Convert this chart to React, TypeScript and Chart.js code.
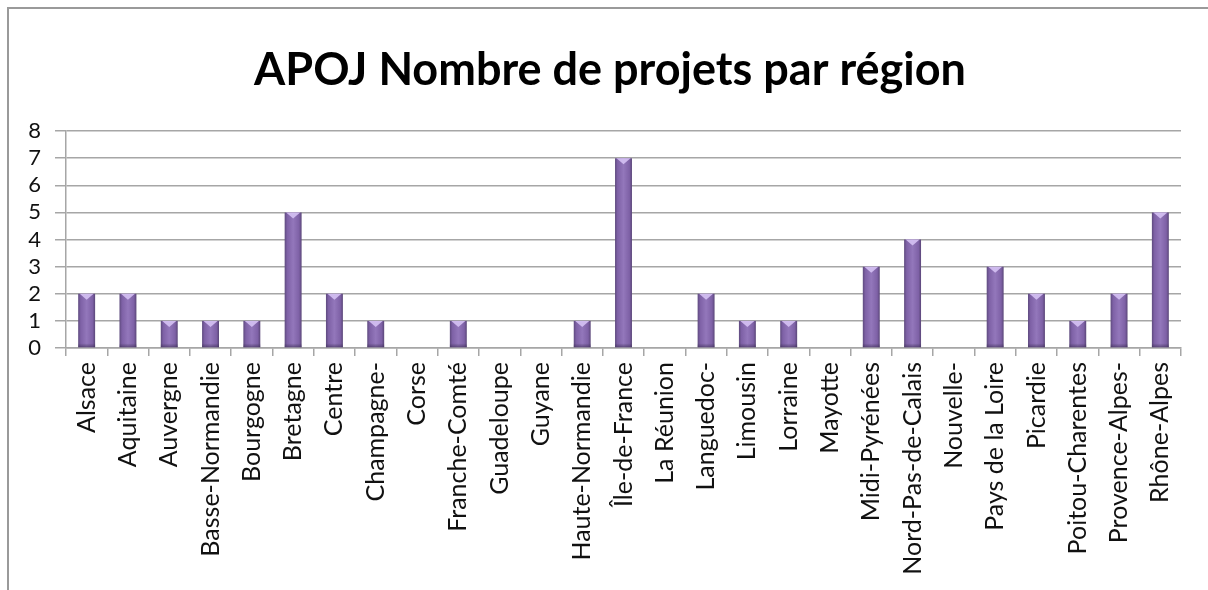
import React, { useEffect, useRef } from "react";
import { Chart, registerables } from "chart.js";

Chart.register(...registerables);

const TITLE = "APOJ Nombre de projets par région";
const regions = [
  "Alsace", "Aquitaine", "Auvergne", "Basse-Normandie", "Bourgogne", "Bretagne",
  "Centre", "Champagne-", "Corse", "Franche-Comté", "Guadeloupe", "Guyane",
  "Haute-Normandie", "Île-de-France", "La Réunion", "Languedoc-", "Limousin",
  "Lorraine", "Mayotte", "Midi-Pyrénées", "Nord-Pas-de-Calais", "Nouvelle-",
  "Pays de la Loire", "Picardie", "Poitou-Charentes", "Provence-Alpes-", "Rhône-Alpes",
];
const projets = [2, 2, 1, 1, 1, 5, 2, 1, 0, 1, 0, 0, 1, 7, 0, 2, 1, 1, 0, 3, 4, 0, 3, 2, 1, 2, 5];
const yMin = 0;
const yMax = 8;
const yStep = 1;

const FONT = "Lato, 'Open Sans', sans-serif";
const GRID = "#a6a6a6";
const TITLE_SIZE = 45;
const TITLE_PAD = 34;

const barStyle = {
  id: "barStyle",
  beforeDatasetsDraw(chart: any) {
    const ctx = chart.ctx;
    const meta = chart.getDatasetMeta(0);
    meta.data.forEach((el: any) => {
      const w = el.width;
      const x0 = el.x - w / 2;
      const g = ctx.createLinearGradient(x0, 0, x0 + w, 0);
      g.addColorStop(0, "#5e4a7e");
      g.addColorStop(0.15, "#7e61a6");
      g.addColorStop(0.5, "#9377bb");
      g.addColorStop(0.85, "#7e61a6");
      g.addColorStop(1, "#5a4678");
      el.options.backgroundColor = g;
    });
  },
  afterDatasetsDraw(chart: any) {
    const ctx = chart.ctx;
    const meta = chart.getDatasetMeta(0);
    ctx.save();
    meta.data.forEach((el: any) => {
      const h = el.base - el.y;
      if (h <= 2) return;
      const w = el.width;
      const x0 = el.x - w / 2;
      ctx.fillStyle = "rgba(210,190,240,0.95)";
      ctx.beginPath();
      ctx.moveTo(x0 + 1.5, el.y);
      ctx.lineTo(x0 + w - 1.5, el.y);
      ctx.lineTo(el.x, el.y + 6);
      ctx.closePath();
      ctx.fill();
      const gb = ctx.createLinearGradient(0, el.base - 4, 0, el.base);
      gb.addColorStop(0, "rgba(60,45,85,0)");
      gb.addColorStop(1, "rgba(60,45,85,0.6)");
      ctx.fillStyle = gb;
      ctx.fillRect(x0, el.base - 4, w, 4);
    });
    ctx.restore();
  },
};

const centeredTitle = {
  id: "centeredTitle",
  afterDraw(chart: any) {
    const ctx = chart.ctx;
    const tb = chart.titleBlock;
    const top = tb ? tb.top : 0;
    ctx.save();
    ctx.font = `bold ${TITLE_SIZE}px ${FONT}`;
    ctx.fillStyle = "#000";
    ctx.textAlign = "center";
    ctx.textBaseline = "middle";
    ctx.fillText(TITLE, chart.width / 2, top + TITLE_PAD + (TITLE_SIZE * 1.2) / 2);
    ctx.restore();
  },
};

export default function App() {
  const ref = useRef<HTMLCanvasElement | null>(null);
  useEffect(() => {
    document.body.style.overflow = "hidden";
    document.documentElement.style.overflow = "hidden";
    const chart = new Chart(ref.current!, {
      type: "bar",
      data: {
        labels: regions,
        datasets: [
          {
            label: TITLE,
            data: projets,
            backgroundColor: () => "#7e61a6",
            borderWidth: 0,
            barPercentage: 0.41,
            categoryPercentage: 1,
          },
        ],
      },
      options: {
        animation: false,
        responsive: false,
        maintainAspectRatio: false,
        layout: { padding: { left: 0, right: 29, top: 0, bottom: 0 } },
        plugins: {
          legend: { display: false },
          tooltip: { enabled: false },
          title: {
            display: true,
            text: TITLE,
            color: "rgba(0,0,0,0)",
            font: { family: FONT, size: TITLE_SIZE, weight: "bold" },
            padding: { top: TITLE_PAD, bottom: 34 },
          },
        },
        scales: {
          x: {
            offset: true,
            grid: {
              display: true,
              offset: true,
              drawOnChartArea: false,
              drawTicks: true,
              tickLength: 8,
              color: GRID,
              lineWidth: 1.5,
            },
            border: { display: true, color: GRID, width: 1.5 },
            ticks: {
              autoSkip: false,
              maxRotation: 90,
              minRotation: 90,
              padding: 6,
              color: "#111",
              font: { family: FONT, size: 25 },
            },
            afterFit(scale: any) {
              scale.height = 242;
            },
          },
          y: {
            min: yMin,
            max: yMax,
            ticks: {
              stepSize: yStep,
              autoSkip: false,
              padding: 14,
              color: "#111",
              font: { family: FONT, size: 22 },
            },
            grid: {
              color: GRID,
              lineWidth: 1.5,
              tickLength: 11,
            },
            border: { display: true, color: GRID, width: 1.5 },
            afterFit(scale: any) {
              scale.width = 56;
            },
          },
        },
      },
      plugins: [barStyle, centeredTitle],
    });
    return () => chart.destroy();
  }, []);

  return (
    <div
      style={{
        position: "fixed",
        left: 7,
        top: 7,
        borderTop: "2px solid #9a9a9a",
        borderLeft: "2px solid #9a9a9a",
        width: 1260,
        height: 620,
        boxSizing: "border-box",
        overflow: "hidden",
        background: "#fff",
      }}
    >
      <canvas ref={ref} width={1200} height={581} style={{ display: "block", marginLeft: 1 }} />
    </div>
  );
}
